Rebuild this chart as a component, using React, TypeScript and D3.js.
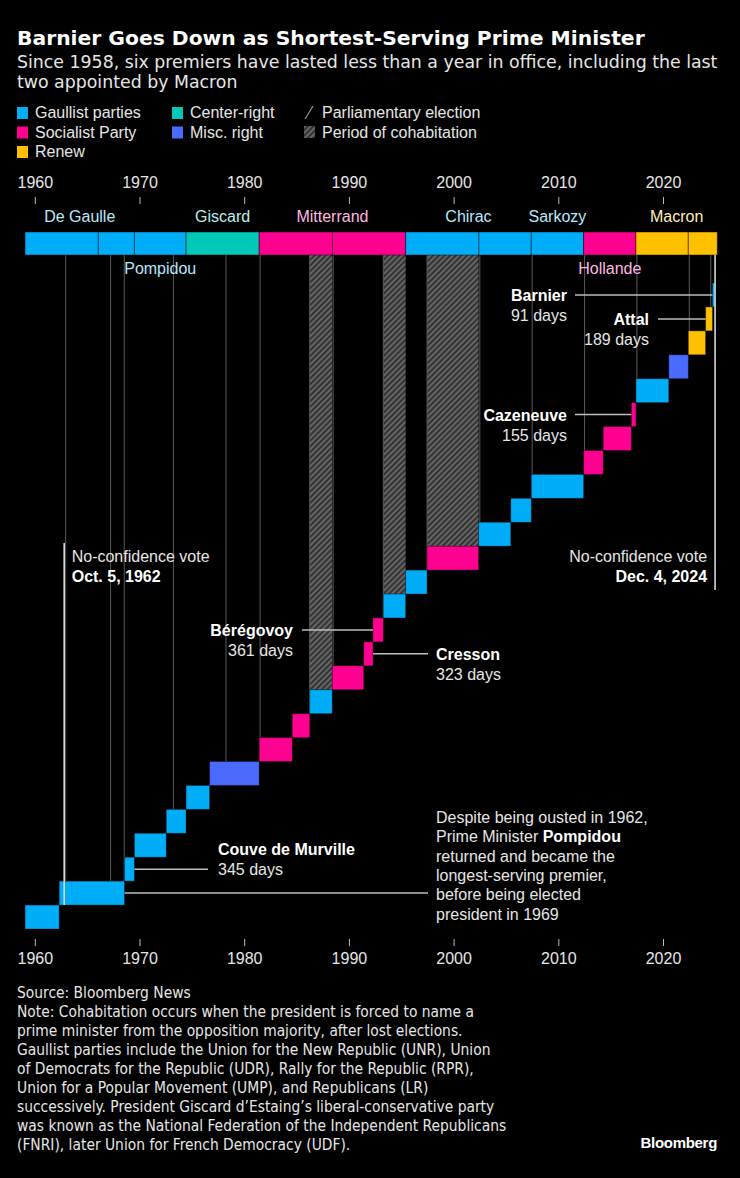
import React, { useEffect } from "react";
import * as d3 from "d3";

// ---------- DATA ----------
const PM_NAMES = ["Debré", "Pompidou", "Couve de Murville", "Chaban-Delmas", "Messmer", "Chirac", "Barre", "Mauroy", "Fabius", "Chirac", "Rocard", "Cresson", "Bérégovoy", "Balladur", "Juppé", "Jospin", "Raffarin", "Villepin", "Fillon", "Ayrault", "Valls", "Cazeneuve", "Philippe", "Castex", "Borne", "Attal", "Barnier"];
const PM_STARTS = ["1959-01-08", "1962-04-14", "1968-07-10", "1969-06-20", "1972-07-05", "1974-05-27", "1976-08-25", "1981-05-21", "1984-07-17", "1986-03-20", "1988-05-10", "1991-05-15", "1992-04-02", "1993-03-29", "1995-05-17", "1997-06-02", "2002-05-06", "2005-05-31", "2007-05-17", "2012-05-15", "2014-03-31", "2016-12-06", "2017-05-15", "2020-07-03", "2022-05-16", "2024-01-09", "2024-09-05"];
const LAST_PM_END = "2024-12-05";
const PM_PARTIES = ["gaullist", "gaullist", "gaullist", "gaullist", "gaullist", "gaullist", "misc", "socialist", "socialist", "gaullist", "socialist", "socialist", "socialist", "gaullist", "gaullist", "socialist", "gaullist", "gaullist", "gaullist", "socialist", "socialist", "socialist", "gaullist", "misc", "renew", "renew", "gaullist"];

const PRES_NAMES = ["De Gaulle", "De Gaulle", "Pompidou", "Giscard", "Mitterrand", "Mitterrand", "Chirac", "Chirac", "Sarkozy", "Hollande", "Macron", "Macron"];
const PRES_STARTS = ["1959-01-08", "1966-01-08", "1969-06-20", "1974-05-27", "1981-05-21", "1988-05-21", "1995-05-17", "2002-05-17", "2007-05-16", "2012-05-15", "2017-05-14", "2022-05-14"];
const PRES_END = "2025-02-20";
const PRES_PARTIES = ["gaullist", "gaullist", "gaullist", "center", "socialist", "socialist", "gaullist", "gaullist", "gaullist", "socialist", "renew", "renew"];
const PRES_LABEL_BELOW = ["Pompidou", "Hollande"];

const ELECTIONS = ["1962-11-25", "1967-03-12", "1968-06-30", "1973-03-11", "1978-03-19", "1981-06-21", "1986-03-16", "1988-06-12", "1993-03-28", "1997-06-01", "2002-06-16", "2007-06-17", "2012-06-17", "2017-06-18", "2022-06-19", "2024-07-07"];
const COHAB_STARTS = ["1986-03-20", "1993-03-29", "1997-06-02"];
const COHAB_ENDS = ["1988-05-10", "1995-05-17", "2002-05-06"];
const NO_CONFIDENCE = ["1962-10-05", "2024-12-04"];
const NO_CONFIDENCE_LABELS = ["Oct. 5, 1962", "Dec. 4, 2024"];

const TICK_YEARS = [1960, 1970, 1980, 1990, 2000, 2010, 2020];

const HIGHLIGHT_PMS = ["Barnier", "Attal", "Cazeneuve", "Bérégovoy", "Cresson", "Couve de Murville"];
const HIGHLIGHT_DAYS = [91, 189, 155, 361, 323, 345];

const LEGEND_KEYS = ["gaullist", "socialist", "renew", "center", "misc"];
const LEGEND_LABELS = ["Gaullist parties", "Socialist Party", "Renew", "Center-right", "Misc. right"];

const NOTE_LINES = [
  "Source: Bloomberg News",
  "Note: Cohabitation occurs when the president is forced to name a",
  "prime minister from the opposition majority, after lost elections.",
  "Gaullist parties include the Union for the New Republic (UNR), Union",
  "of Democrats for the Republic (UDR), Rally for the Republic (RPR),",
  "Union for a Popular Movement (UMP), and Republicans (LR)",
  "successively. President Giscard d’Estaing’s liberal-conservative party",
  "was known as the National Federation of the Independent Republicans",
  "(FNRI), later Union for French Democracy (UDF).",
];

const POMPIDOU_NOTE = [
  [["Despite being ousted in 1962,", false]],
  [["Prime Minister ", false], ["Pompidou", true]],
  [["returned and became the", false]],
  [["longest-serving premier,", false]],
  [["before being elected", false]],
  [["president in 1969", false]],
];

// ---------- STYLE ----------
const COLORS: Record<string, string> = {
  gaullist: "#00adf8",
  center: "#00c9b7",
  socialist: "#ff0090",
  misc: "#4b6bff",
  renew: "#ffc000",
};
const SANS = "'Liberation Sans', Arial, Helvetica, sans-serif";
const HEAD = "'DejaVu Sans', Verdana, sans-serif";
const NOTE = "'DejaVu Sans Condensed', 'DejaVu Sans', sans-serif";
const FS = 16;

const parse = d3.timeParse("%Y-%m-%d");

export default function App() {
  useEffect(() => {
    document.body.style.margin = "0";
    document.body.style.background = "#000";
  }, []);

  const W = 740, H = 1178;
  const x = d3.scaleTime()
    .domain([new Date(1960, 0, 1), new Date(2020, 0, 1)])
    .range([35.3, 663.5]);
  const y = d3.scaleBand<number>().domain(d3.range(PM_NAMES.length)).range([929, 283]);
  const bw = y.bandwidth();
  const barTop = 232, barBottom = 255;

  const pmStarts = PM_STARTS.map((s) => parse(s)!);
  const pms = PM_NAMES.map((name, i) => ({
    name,
    i,
    start: pmStarts[i],
    end: i < PM_NAMES.length - 1 ? pmStarts[i + 1] : parse(LAST_PM_END)!,
    party: PM_PARTIES[i],
  }));
  const rowAt = (d: Date) => Math.max(0, d3.bisectRight(pmStarts, d) - 1);

  const pres = PRES_NAMES.map((name, i) => ({
    name,
    start: parse(PRES_STARTS[i])!,
    end: i < PRES_NAMES.length - 1 ? parse(PRES_STARTS[i + 1])! : parse(PRES_END)!,
    party: PRES_PARTIES[i],
  }));
  const presGroups = d3.groups(pres, (d) => d.name).map(([name, segs]) => ({
    name,
    start: segs[0].start,
    end: segs[segs.length - 1].end,
    party: segs[0].party,
  }));
  const tint = (c: string) => d3.interpolateRgb(c, "#ffffff")(0.72);

  const rowMid = (i: number) => (y(i) as number) + bw / 2;
  const pmIdx = (name: string) => PM_NAMES.lastIndexOf(name);

  const hp = HIGHLIGHT_PMS.map((n, k) => ({ name: n, days: HIGHLIGHT_DAYS[k], idx: pmIdx(n) }));

  const grey = "#bdbdbd";

  return (
    <svg width={W} height={H} style={{ display: "block", background: "#000" }} xmlns="http://www.w3.org/2000/svg">
      <defs>
        <pattern id="hatch" width={4} height={4} patternUnits="userSpaceOnUse" patternTransform="rotate(45)">
          <rect width={4} height={4} fill="#333" />
          <line x1={1} y1={0} x2={1} y2={4} stroke="#7a7a7a" strokeWidth={1.4} />
        </pattern>
      </defs>
      <rect width={W} height={H} fill="#000" />

      {/* Title */}
      <text x={17} y={45} fill="#fff" fontFamily={HEAD} fontWeight="bold" fontSize={20.3}>
        Barnier Goes Down as Shortest-Serving Prime Minister
      </text>
      <text x={17} y={68} fill="#e6e6e6" fontFamily={HEAD} fontSize={17.35}>
        Since 1958, six premiers have lasted less than a year in office, including the last
      </text>
      <text x={17} y={88} fill="#e6e6e6" fontFamily={HEAD} fontSize={17.35}>
        two appointed by Macron
      </text>

      {/* Legend */}
      {LEGEND_KEYS.map((k, i) => {
        const col = i < 3 ? 0 : 1;
        const row = i < 3 ? i : i - 3;
        const lx = col === 0 ? 17 : 172;
        const cy = 112 + row * 19.5;
        return (
          <g key={k}>
            <rect x={lx} y={cy - 5} width={11} height={12} fill={COLORS[k]} />
            <text x={lx + 18} y={cy + 6} fill="#e6e6e6" fontFamily={SANS} fontSize={FS}>{LEGEND_LABELS[i]}</text>
          </g>
        );
      })}
      <line x1={305} y1={119} x2={313} y2={106} stroke="#8a8a8a" strokeWidth={1.3} />
      <text x={322} y={118} fill="#e6e6e6" fontFamily={SANS} fontSize={FS}>Parliamentary election</text>
      <rect x={304} y={126} width={11} height={12} fill="url(#hatch)" />
      <text x={322} y={137.5} fill="#e6e6e6" fontFamily={SANS} fontSize={FS}>Period of cohabitation</text>

      {/* Axes */}
      {TICK_YEARS.map((yr) => {
        const xx = x(new Date(yr, 0, 1));
        return (
          <g key={"t" + yr}>
            <text x={xx} y={188} textAnchor="middle" fill="#e6e6e6" fontFamily={SANS} fontSize={FS}>{yr}</text>
            <line x1={xx} x2={xx} y1={197} y2={204} stroke="#bbb" strokeWidth={1} />
            <line x1={xx} x2={xx} y1={939} y2={946} stroke="#bbb" strokeWidth={1} />
            <text x={xx} y={964} textAnchor="middle" fill="#e6e6e6" fontFamily={SANS} fontSize={FS}>{yr}</text>
          </g>
        );
      })}

      {/* Cohabitation hatches */}
      {COHAB_STARTS.map((s, i) => {
        const a = parse(s)!, b = parse(COHAB_ENDS[i])!;
        const r = rowAt(a);
        return (
          <rect key={"c" + i} x={x(a)} y={barBottom} width={x(b) - x(a)} height={(y(r) as number) - barBottom} fill="url(#hatch)" />
        );
      })}

      {/* Election lines */}
      {ELECTIONS.map((s, i) => {
        const d = parse(s)!;
        const r = rowAt(d);
        return (
          <line key={"e" + i} x1={x(d)} x2={x(d)} y1={barBottom} y2={y(r) as number} stroke="#5a5a5a" strokeWidth={1} />
        );
      })}

      {/* PM steps */}
      {pms.map((p) => (
        <rect key={"p" + p.i} x={x(p.start)} y={y(p.i)} width={Math.max(1.5, x(p.end) - x(p.start))} height={bw}
          fill={COLORS[p.party]} stroke="rgba(0,0,0,0.35)" strokeWidth={1} />
      ))}

      {/* Presidents bar */}
      {pres.map((p, i) => (
        <rect key={"pr" + i} x={x(p.start)} y={barTop} width={x(p.end) - x(p.start)} height={barBottom - barTop}
          fill={COLORS[p.party]} stroke="rgba(0,0,0,0.45)" strokeWidth={1} />
      ))}
      {presGroups.map((g) => {
        const below = PRES_LABEL_BELOW.includes(g.name);
        return (
          <text key={"pl" + g.name} x={(x(g.start) + x(g.end)) / 2} y={below ? 274 : 222} textAnchor="middle"
            fill={tint(COLORS[g.party])} fontFamily={SANS} fontSize={FS}>{g.name}</text>
        );
      })}

      {/* No-confidence lines */}
      {(() => {
        const a = parse(NO_CONFIDENCE[0])!, b = parse(NO_CONFIDENCE[1])!;
        const xa = x(a), xb = x(b);
        const pompBottom = (y(pmIdx("Pompidou")) as number) + bw;
        return (
          <g>
            <line x1={xa} x2={xa} y1={543} y2={pompBottom} stroke="#d8d8d8" strokeWidth={1.6} />
            <text x={xa + 7.5} y={562} fill="#e6e6e6" fontFamily={SANS} fontSize={FS}>No-confidence vote</text>
            <text x={xa + 7.5} y={582} fill="#fff" fontFamily={SANS} fontSize={FS} fontWeight="bold">{NO_CONFIDENCE_LABELS[0]}</text>
            <line x1={xb} x2={xb} y1={barBottom} y2={590} stroke="#d8d8d8" strokeWidth={1.6} />
            <text x={xb - 8} y={562} textAnchor="end" fill="#e6e6e6" fontFamily={SANS} fontSize={FS}>No-confidence vote</text>
            <text x={xb - 8} y={582} textAnchor="end" fill="#fff" fontFamily={SANS} fontSize={FS} fontWeight="bold">{NO_CONFIDENCE_LABELS[1]}</text>
          </g>
        );
      })()}

      {/* Highlight annotations */}
      {hp.map((h) => {
        const p = pms[h.idx];
        const my = rowMid(h.idx);
        let tx = 0, anchor = "end", lx1 = 0, lx2 = 0, nameY = my + 6;
        if (h.name === "Barnier") { tx = 567; lx1 = 575; lx2 = x(p.start); }
        if (h.name === "Attal") { tx = 649; lx1 = 658; lx2 = x(p.start); }
        if (h.name === "Cazeneuve") { tx = 567; lx1 = 575; lx2 = x(p.start); }
        if (h.name === "Bérégovoy") { tx = 293; lx1 = 302; lx2 = x(p.start); }
        if (h.name === "Cresson") { tx = 436; anchor = "start"; lx1 = x(p.end); lx2 = 428; }
        if (h.name === "Couve de Murville") { tx = 218; anchor = "start"; lx1 = x(p.end); lx2 = 208; nameY = my - 14; }
        return (
          <g key={"h" + h.name}>
            <line x1={lx1} x2={lx2} y1={my} y2={my} stroke={grey} strokeWidth={1.5} />
            <text x={tx} y={nameY} textAnchor={anchor} fill="#fff" fontFamily={SANS} fontSize={FS} fontWeight="bold">{h.name}</text>
            <text x={tx} y={nameY + 20} textAnchor={anchor} fill="#e6e6e6" fontFamily={SANS} fontSize={FS}>{h.days} days</text>
          </g>
        );
      })}

      {/* Pompidou note */}
      {(() => {
        const pi = pmIdx("Pompidou");
        const p = pms[pi];
        const my = rowMid(pi);
        return (
          <g>
            <line x1={x(p.end)} x2={428} y1={my} y2={my} stroke={grey} strokeWidth={1.5} />
            {POMPIDOU_NOTE.map((ln, k) => (
              <text key={"pn" + k} x={436} y={823 + k * 19.3} fill="#e6e6e6" fontFamily={SANS} fontSize={FS}>
                {ln.map((seg, j) => (
                  <tspan key={j} fontWeight={seg[1] ? "bold" : "normal"} fill={seg[1] ? "#fff" : "#e6e6e6"}>{seg[0] as string}</tspan>
                ))}
              </text>
            ))}
          </g>
        );
      })()}

      {/* Footer */}
      {NOTE_LINES.map((t, i) => (
        <text key={"n" + i} x={17} y={998 + i * 19} fill="#e6e6e6" fontFamily={NOTE} fontStretch="condensed" fontSize={15.4}>{t}</text>
      ))}
      <text x={717} y={1148} textAnchor="end" fill="#fff" fontFamily={SANS} fontWeight="bold" fontSize={15} letterSpacing={-0.3}>Bloomberg</text>
    </svg>
  );
}
